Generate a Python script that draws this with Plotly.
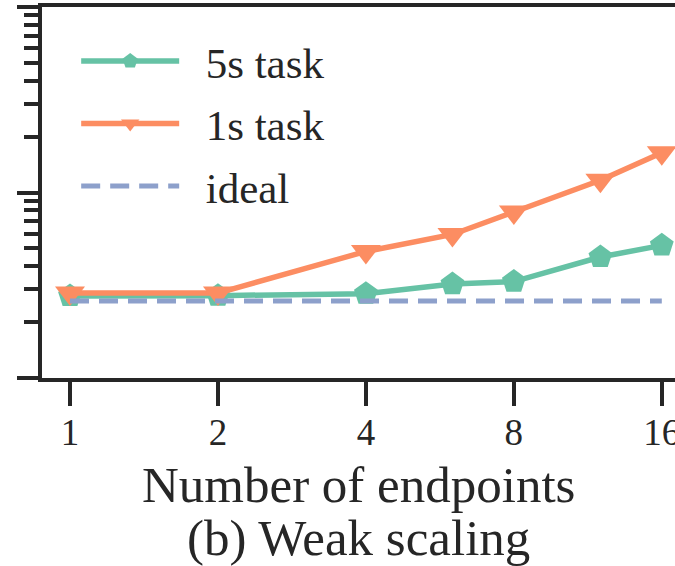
import plotly.graph_objects as go

# Data
endpoints = [1, 2, 4, 6, 8, 12, 16]
task_5s = [2.77, 2.78, 2.85, 3.21, 3.31, 4.49, 5.19]
task_1s = [2.87, 2.87, 4.81, 5.94, 7.85, 11.64, 16.4]
ideal_x = [1, 16]
ideal_y = [2.60, 2.60]
x_tickvals = [1, 2, 4, 8, 16]
x_ticktext = ["1", "2", "4", "8", "16"]
series_names = ["5s task", "1s task", "ideal"]

GREEN = "#66c2a5"
ORANGE = "#fc8d62"
BLUE = "#8da0cb"
INK = "#262626"
FONT = "Liberation Serif, Times New Roman, Times, serif"
PAD = "\u00a0\u00a0"

fig = go.Figure()
fig.add_trace(go.Scatter(
    x=endpoints, y=task_5s, name=PAD + series_names[0], mode="lines+markers",
    legendgroup="a",
    line=dict(color=GREEN, width=5.5),
    marker=dict(symbol="pentagon", size=25, color=GREEN),
))
fig.add_trace(go.Scatter(
    x=endpoints, y=task_1s, name=PAD + series_names[1], mode="lines+markers",
    legendgroup="b",
    line=dict(color=ORANGE, width=5.5),
    marker=dict(symbol="triangle-down", size=26, color=ORANGE),
))
fig.add_trace(go.Scatter(
    x=ideal_x, y=ideal_y, name=PAD + series_names[2], mode="lines",
    legendgroup="c",
    line=dict(color=BLUE, width=5, dash="19px,10px"),
))

fig.update_layout(
    width=675, height=566,
    margin=dict(l=42, r=0, t=7, b=188, autoexpand=False),
    paper_bgcolor="white", plot_bgcolor="white",
    font=dict(family=FONT, color=INK, size=37),
    showlegend=True,
    legend=dict(
        x=0.054, y=0.947, xanchor="left", yanchor="top",
        font=dict(family=FONT, size=43, color=INK),
        bgcolor="rgba(0,0,0,0)", borderwidth=0,
        itemwidth=98, tracegroupgap=3.5,
    ),
    xaxis=dict(
        type="log", range=[-0.057, 1.231], automargin=False,
        tickvals=x_tickvals, ticktext=x_ticktext,
        ticks="outside", ticklen=24, tickwidth=4, tickcolor=INK,
        showline=True, linewidth=4, linecolor=INK, mirror=True,
        showgrid=False, zeroline=False,
        ticklabeloverflow="allow", ticklabelstandoff=-5,
        tickfont=dict(family=FONT, size=37, color=INK),
    ),
    yaxis=dict(
        type="log", range=[0, 2], dtick=1, automargin=False,
        ticks="outside", ticklen=21, tickwidth=3.5, tickcolor=INK,
        showticklabels=False,
        showline=True, linewidth=4, linecolor=INK, mirror=False,
        showgrid=False, zeroline=False,
        minor=dict(ticks="outside", ticklen=14, tickwidth=3.5,
                   tickcolor=INK, dtick="D1", showgrid=False),
    ),
    annotations=[
        dict(text="Number of endpoints", xref="paper", yref="paper",
             x=0.5, y=0, xanchor="center", yanchor="top", yshift=-77,
             showarrow=False, font=dict(family=FONT, size=51, color=INK)),
        dict(text="(b) Weak scaling", xref="paper", yref="paper",
             x=0.5, y=0, xanchor="center", yanchor="top", yshift=-130,
             showarrow=False, font=dict(family=FONT, size=51, color=INK)),
    ],
)

fig.write_html(
    "out.html",
    config={"displayModeBar": False},
    post_script="document.body.style.margin='0';document.body.style.overflow='hidden';",
)
